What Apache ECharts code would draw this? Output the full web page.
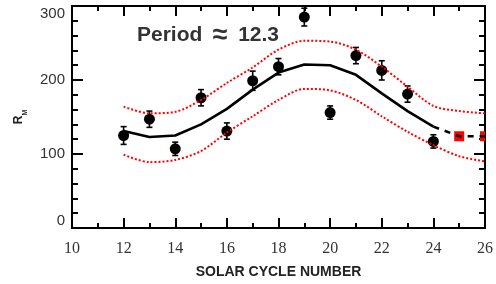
<!DOCTYPE html>
<html>
<head>
<meta charset="utf-8">
<script src="https://cdn.jsdelivr.net/npm/echarts@6/dist/echarts.min.js"></script>
<style>
  html, body { margin: 0; padding: 0; background: #fff; }
  #chart { width: 496px; height: 284px; }
</style>
</head>
<body>
<div id="chart"></div>
<script>
// solar cycles with observed maxima
var cycles = [12, 13, 14, 15, 16, 17, 18, 19, 20, 21, 22, 23, 24];
var observed = [125, 147, 107, 176, 131, 199, 218, 285, 156, 233, 213, 181, 117];
var errors = [12, 11, 9, 11, 11, 13, 11, 12, 9, 11, 13, 11, 9];
var model = [131, 123, 125, 140, 161, 187, 210, 221, 220, 207, 182, 158, 137];

// forecast part (dashed) and predicted maxima
var forecastCycles = [24, 25, 26];
var forecast = [137, 124, 124];
var predictedCycles = [25, 26];
var predicted = [124, 124];

// confidence band (dotted red)
var bandCycles = [12, 13, 14, 15, 16, 17, 18, 19, 20, 21, 22, 23, 24, 25, 26];
var upper = [164, 155, 157, 173, 196, 217, 241, 253, 252, 241, 218, 191, 165, 158, 155];
var lower = [99, 89, 92, 104, 129, 151, 173, 188, 186, 173, 151, 130, 112, 97, 90];

var xTicks = [10, 12, 14, 16, 18, 20, 22, 24, 26];
var yTicks = [0, 100, 200, 300];

var zip = function (xs, ys) {
    var res = [];
    for (var i = 0; i < xs.length; i++) {
        res.push([xs[i], ys[i]]);
    }
    return res;
};

var errData = [];
for (var i = 0; i < cycles.length; i++) {
    errData.push([cycles[i], observed[i] - errors[i], observed[i] + errors[i]]);
}

var chart = echarts.init(document.getElementById('chart'));

var tickStyle = { color: '#000', width: 2 };
var lineStyle = { color: '#000', width: 2 };

option = {
    animation: false,
    title: {
        text: 'Period\u2002{s|\u2248}\u200212.3',
        left: 137,
        top: 22,
        padding: 0,
        textStyle: {
            color: '#333',
            fontFamily: 'Liberation Sans',
            fontSize: 21,
            fontWeight: 'bold',
            rich: {
                s: { color: '#333', fontFamily: 'Liberation Sans', fontSize: 27, fontWeight: 'bold' }
            }
        }
    },
    grid: { left: 72, right: 8, top: 6, bottom: 56 },
    xAxis: [
        {
            type: 'value',
            min: xTicks[0],
            max: xTicks[xTicks.length - 1],
            interval: 2,
            position: 'bottom',
            axisLine: { onZero: false, lineStyle: lineStyle },
            axisTick: { inside: true, length: 10, lineStyle: tickStyle },
            minorTick: { show: true, splitNumber: 2, length: 5, lineStyle: tickStyle },
            splitLine: { show: false },
            axisLabel: {
                margin: 13,
                color: '#333',
                fontFamily: '"Liberation Serif", "Times New Roman", serif',
                fontSize: 16
            },
            name: 'SOLAR CYCLE NUMBER',
            nameLocation: 'middle',
            nameGap: 37,
            nameTextStyle: {
                color: '#222',
                fontFamily: 'Liberation Sans',
                fontSize: 14,
                fontWeight: 'bold'
            }
        },
        {
            type: 'value',
            min: xTicks[0],
            max: xTicks[xTicks.length - 1],
            interval: 2,
            position: 'top',
            axisLine: { onZero: false, lineStyle: lineStyle },
            axisTick: { inside: true, length: 10, lineStyle: tickStyle },
            minorTick: { show: true, splitNumber: 2, length: 5, lineStyle: tickStyle },
            splitLine: { show: false },
            axisLabel: { show: false }
        }
    ],
    yAxis: [
        {
            type: 'value',
            min: yTicks[0],
            max: yTicks[yTicks.length - 1],
            interval: 100,
            position: 'left',
            axisLine: { show: true, onZero: false, lineStyle: lineStyle },
            axisTick: { show: true, inside: true, length: 11, lineStyle: tickStyle },
            minorTick: { show: true, splitNumber: 5, length: 6, lineStyle: tickStyle },
            splitLine: { show: false },
            axisLabel: {
                margin: 7,
                color: '#333',
                fontFamily: 'Liberation Sans',
                fontSize: 15,
                verticalAlignMaxLabel: 'top',
                verticalAlignMinLabel: 'bottom'
            },
            name: '{a|R}{b|M}',
            nameLocation: 'middle',
            nameGap: 43,
            nameTextStyle: {
                rich: {
                    a: { fontFamily: 'Liberation Sans', fontSize: 12, fontWeight: 'bold', color: '#222', verticalAlign: 'top' },
                    b: { fontFamily: 'Liberation Sans', fontSize: 7, fontWeight: 'bold', color: '#222', padding: [9, 0, 0, 0], verticalAlign: 'bottom' }
                }
            }
        },
        {
            type: 'value',
            min: yTicks[0],
            max: yTicks[yTicks.length - 1],
            interval: 100,
            position: 'right',
            axisLine: { show: true, onZero: false, lineStyle: lineStyle },
            axisTick: { show: true, inside: true, length: 11, lineStyle: tickStyle },
            minorTick: { show: true, splitNumber: 5, length: 6, lineStyle: tickStyle },
            splitLine: { show: false },
            axisLabel: { show: false }
        }
    ],
    series: [
        {
            type: 'scatter',
            data: zip(cycles, observed),
            symbol: 'circle',
            symbolSize: 11,
            itemStyle: { color: '#000', opacity: 1 },
            z: 3
        },
        {
            type: 'custom',
            data: errData,
            renderItem: function (params, api) {
                var x = api.value(0);
                var lo = api.coord([x, api.value(1)]);
                var hi = api.coord([x, api.value(2)]);
                var w = 3;
                var style = { stroke: '#000', lineWidth: 1.6 };
                return {
                    type: 'group',
                    children: [
                        { type: 'line', shape: { x1: lo[0], y1: lo[1], x2: hi[0], y2: hi[1] }, style: style },
                        { type: 'line', shape: { x1: lo[0] - w, y1: lo[1], x2: lo[0] + w, y2: lo[1] }, style: style },
                        { type: 'line', shape: { x1: hi[0] - w, y1: hi[1], x2: hi[0] + w, y2: hi[1] }, style: style }
                    ]
                };
            },
            z: 3
        },
        {
            type: 'line',
            data: zip(cycles, model),
            showSymbol: false,
            lineStyle: { color: '#000', width: 2.6 },
            z: 4
        },
        {
            type: 'line',
            data: zip(forecastCycles, forecast),
            showSymbol: false,
            lineStyle: { color: '#000', width: 2.6, type: [6, 6] },
            z: 4
        },
        {
            type: 'custom',
            data: zip(predictedCycles, predicted),
            renderItem: function (params, api) {
                var p = api.coord([api.value(0), api.value(1)]);
                var s = 10;
                var rect = echarts.graphic.clipRectByRect(
                    { x: p[0] - s / 2, y: p[1] - s / 2, width: s, height: s },
                    params.coordSys
                );
                return rect && { type: 'rect', shape: rect, style: { fill: '#ff0000' } };
            },
            z: 3
        },
        {
            type: 'line',
            data: zip(bandCycles, upper),
            smooth: 0.3,
            showSymbol: false,
            lineStyle: { color: '#ff0000', width: 2, type: [2, 2] },
            z: 5
        },
        {
            type: 'line',
            data: zip(bandCycles, lower),
            smooth: 0.3,
            showSymbol: false,
            lineStyle: { color: '#ff0000', width: 2, type: [2, 2] },
            z: 5
        }
    ]
};

chart.setOption(option);
</script>
</body>
</html>
